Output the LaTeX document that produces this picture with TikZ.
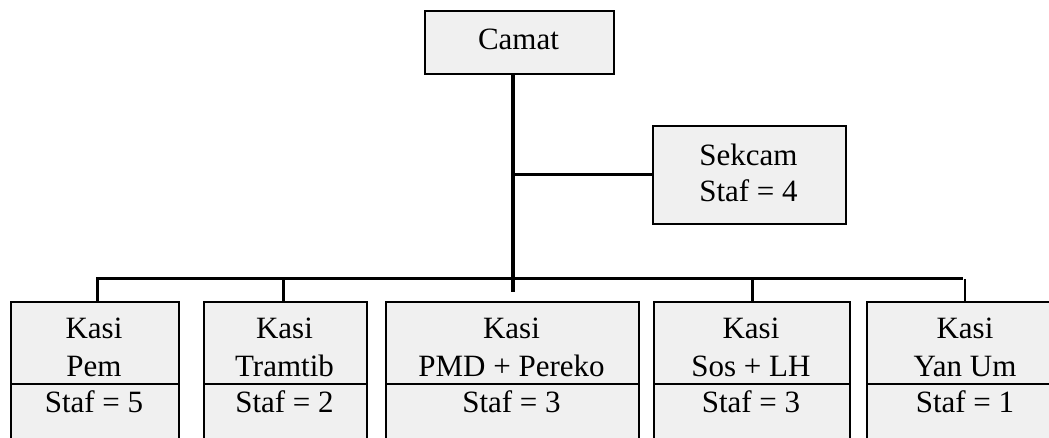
\documentclass[tikz,border=0pt]{standalone}
\usepackage{fontspec}
\setmainfont{Liberation Serif}
\begin{document}
\begin{tikzpicture}[x=1pt,y=-1pt,
  box/.style={draw=black, line width=1.8pt, fill=black!6, inner sep=0pt, anchor=north west},
  lbl/.style={anchor=base, inner sep=0pt, font=\fontsize{31}{37}\selectfont},
  link/.style={line width=3pt},
  trunk/.style={line width=4.5pt},
  thinlink/.style={line width=1.5pt},
]
\useasboundingbox (0,0) rectangle (1049,437);
\clip (0,0) rectangle (1049,437);

% head of the district
\node[box, minimum width=189pt, minimum height=63pt] (camat) at (424,10) {};
\node[lbl] (tcamat) at (518.5,49) {Camat};

% secretary
\node[box, minimum width=193pt, minimum height=98pt] (sek) at (652,125) {};
\node[lbl] (tsek1) at (748.5,165) {Sekcam};
\node[lbl] (tsek2) at (748.5,201) {Staf = 4};

% section heads: upper part (title) and lower part (staff)
\node[box, minimum width=168pt, minimum height=82pt] (b1u) at (10,301) {};
\node[box, minimum width=168pt, minimum height=90pt] (b1l) at (10,383) {};
\node[box, minimum width=163pt, minimum height=82pt] (b2u) at (203,301) {};
\node[box, minimum width=163pt, minimum height=90pt] (b2l) at (203,383) {};
\node[box, minimum width=253pt, minimum height=82pt] (b3u) at (385,301) {};
\node[box, minimum width=253pt, minimum height=90pt] (b3l) at (385,383) {};
\node[box, minimum width=196pt, minimum height=82pt] (b4u) at (653,301) {};
\node[box, minimum width=196pt, minimum height=90pt] (b4l) at (653,383) {};
\node[box, minimum width=198pt, minimum height=82pt] (b5u) at (866,301) {};
\node[box, minimum width=198pt, minimum height=90pt] (b5l) at (866,383) {};

\node[lbl] (t1a) at (94,338) {Kasi};
\node[lbl] (t1b) at (94,376) {Pem};
\node[lbl] (t1c) at (94,412) {Staf = 5};
\node[lbl] (t2a) at (284.5,338) {Kasi};
\node[lbl] (t2b) at (284.5,376) {Tramtib};
\node[lbl] (t2c) at (284.5,412) {Staf = 2};
\node[lbl] (t3a) at (511.5,338) {Kasi};
\node[lbl] (t3b) at (511.5,376) {PMD + Pereko};
\node[lbl] (t3c) at (511.5,412) {Staf = 3};
\node[lbl] (t4a) at (751,338) {Kasi};
\node[lbl] (t4b) at (751,376) {Sos + LH};
\node[lbl] (t4c) at (751,412) {Staf = 3};
\node[lbl] (t5a) at (965,338) {Kasi};
\node[lbl] (t5b) at (965,376) {Yan Um};
\node[lbl] (t5c) at (965,412) {Staf = 1};

% connectors
\coordinate (trunkend) at (513,292);
\coordinate (barL) at (97,278);
\coordinate (barR) at (965,278);
\coordinate (d2) at (283,278);
\coordinate (d4) at (752,278);

\draw[trunk] (trunkend |- camat.south) -- (trunkend);
\draw[link] (trunkend |- sek.west) -- (sek.west);
\draw[link] (barL |- b1u.north) -- (barL) -- ([xshift=-2pt]barR);
\draw[link] (d2) -- (d2 |- b2u.north);
\draw[link] (d4) -- (d4 |- b4u.north);
\draw[thinlink] ([yshift=-1pt]barR) -- (barR |- b5u.north);
\end{tikzpicture}
\end{document}
